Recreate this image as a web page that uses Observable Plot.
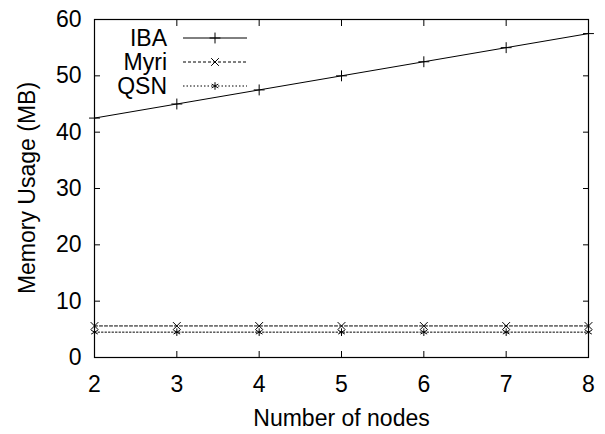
<!DOCTYPE html>
<html>
<head>
<meta charset="utf-8">
<script src="https://cdn.jsdelivr.net/npm/d3@7"></script>
<script src="https://cdn.jsdelivr.net/npm/@observablehq/plot@0.6"></script>
<style>
  html, body { margin: 0; padding: 0; background: #fff; }
  #chart svg { display: block; }
</style>
</head>
<body>
<div id="chart"></div>
<script>
// ---- data ----
const nodes = [2, 3, 4, 5, 6, 7, 8];
const ibaValues = [42.5, 45, 47.5, 50, 52.5, 55, 57.5];
const myriValues = [5.6, 5.6, 5.6, 5.6, 5.6, 5.6, 5.6];
const qsnValues = [4.5, 4.5, 4.5, 4.5, 4.5, 4.5, 4.5];
const seriesNames = ["IBA", "Myri", "QSN"];
const xTicks = [2, 3, 4, 5, 6, 7, 8];
const yTicks = [0, 10, 20, 30, 40, 50, 60];
const xLabel = "Number of nodes";
const yLabel = "Memory Usage (MB)";

// ---- styling ----
const FONT = "'Liberation Sans', Arial, Helvetica, sans-serif";
const FS = 23;
const styles = {
  IBA:  {dash: null,  symbol: "plus"},
  Myri: {dash: "3,2", symbol: "times"},
  QSN:  {dash: "1.5,2", symbol: "asterisk"}
};

const seriesValues = [ibaValues, myriValues, qsnValues];
const rows = seriesNames.flatMap((s, i) =>
  nodes.map((n, j) => ({series: s, x: n, y: seriesValues[i][j]}))
);

const lineMarks = seriesNames.flatMap(s => [
  Plot.line(rows.filter(d => d.series === s), {
    x: "x", y: "y", stroke: "#000", strokeWidth: 1,
    strokeDasharray: styles[s].dash
  }),
  Plot.dot(rows.filter(d => d.series === s), {
    x: "x", y: "y", symbol: () => styles[s].symbol, r: 3.6,
    stroke: "#000", strokeWidth: 1, fill: "none"
  })
]);

const chart = Plot.plot({
  width: 605,
  height: 434,
  marginLeft: 94,
  marginRight: 17,
  marginTop: 19,
  marginBottom: 77,
  style: {fontFamily: FONT, fontSize: FS + "px", color: "#000", background: "#fff"},
  x: {domain: [2, 8]},
  y: {domain: [0, 60]},
  symbol: {type: "identity"},
  marks: [
    // inward ticks on all four sides
    Plot.axisX(xTicks, {anchor: "bottom", tickSize: -6, tickFormat: () => "", label: null}),
    Plot.axisX(xTicks, {anchor: "top", tickSize: -6, tickFormat: () => "", label: null}),
    Plot.axisY(yTicks, {anchor: "left", tickSize: -6, tickFormat: () => "", label: null}),
    Plot.axisY(yTicks, {anchor: "right", tickSize: -6, tickFormat: () => "", label: null}),
    // tick labels
    Plot.axisX(xTicks, {anchor: "bottom", tickSize: 0, tickPadding: 18, label: null, fontSize: FS}),
    Plot.axisY(yTicks, {anchor: "left", tickSize: 0, tickPadding: 13, label: null, fontSize: FS}),
    Plot.frame({stroke: "#000", strokeWidth: 1.2}),
    ...lineMarks,
    // x axis title
    Plot.text([xLabel], {text: d => d, frameAnchor: "bottom", dy: 61, lineAnchor: "middle", fontSize: FS, fill: "#000"})
  ]
});

const svg = d3.select(chart);

// y axis title (rotated), centered on the frame
svg.append("text")
  .attr("transform", `translate(27,${(19 + 434 - 77) / 2}) rotate(-90)`)
  .attr("dy", "0.35em")
  .attr("text-anchor", "middle")
  .attr("font-family", FONT).attr("font-size", FS).attr("fill", "#000")
  .text(yLabel);

// ---- legend (inside top-left of plot) ----
const symbolMap = {plus: d3.symbolPlus, times: d3.symbolTimes, asterisk: d3.symbolAsterisk};
const legendTextX = 167, lineX1 = 183, lineX2 = 247, legendY0 = 38, legendStep = 24;
const lg = svg.append("g").attr("font-family", FONT).attr("font-size", FS);
seriesNames.forEach((s, i) => {
  const y = legendY0 + i * legendStep;
  lg.append("text").attr("x", legendTextX).attr("y", y).attr("dy", "0.35em")
    .attr("text-anchor", "end").attr("fill", "#000").text(s);
  lg.append("line").attr("x1", lineX1).attr("x2", lineX2).attr("y1", y).attr("y2", y)
    .attr("stroke", "#000").attr("stroke-width", 1)
    .attr("stroke-dasharray", styles[s].dash);
  lg.append("path").attr("transform", `translate(${(lineX1 + lineX2) / 2},${y})`)
    .attr("d", d3.symbol(symbolMap[styles[s].symbol], Math.PI * 3.6 * 3.6)())
    .attr("stroke", "#000").attr("fill", "none").attr("stroke-width", 1);
});

document.getElementById("chart").appendChild(chart);
</script>
</body>
</html>
